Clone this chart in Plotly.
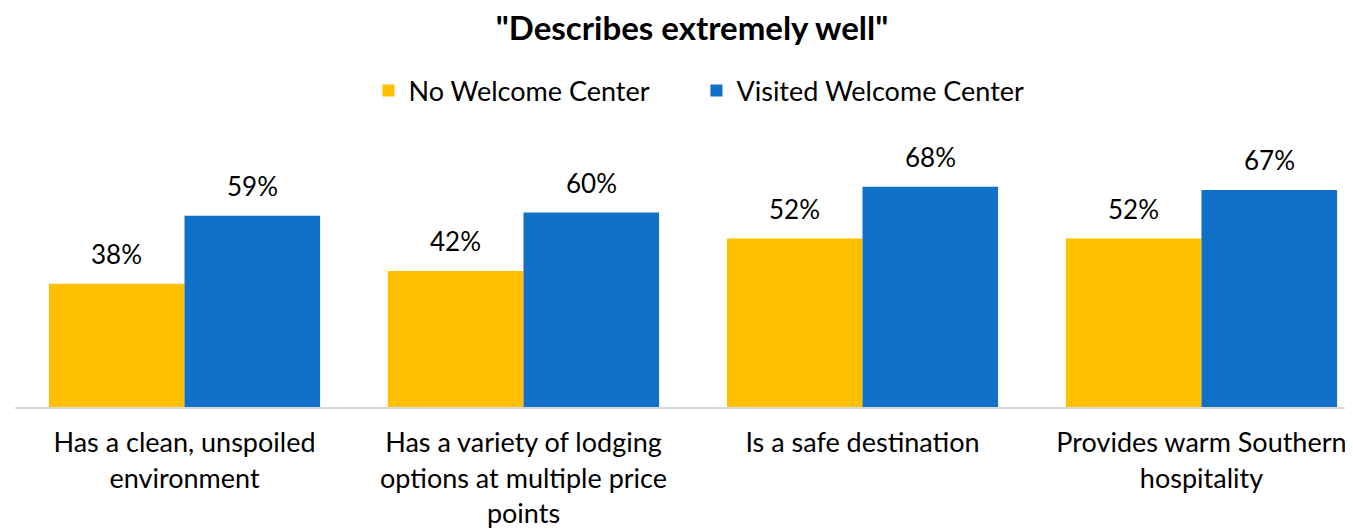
import plotly.graph_objects as go

categories = [
    "Has a clean, unspoiled<br>environment",
    "Has a variety of lodging<br>options at multiple price<br>points",
    "Is a safe destination",
    "Provides warm Southern<br>hospitality",
]
no_center = [38, 42, 52, 52]
visited_center = [59, 60, 68, 67]

FONT = "Lato"
COLORS = {"No Welcome Center": "#FFC000", "Visited Welcome Center": "#1170C8"}

fig = go.Figure()

series = [("No Welcome Center", no_center, -68), ("Visited Welcome Center", visited_center, 68)]
for name, values, shift in series:
    fig.add_trace(
        go.Bar(
            name=name,
            x=categories,
            y=values,
            marker=dict(color=COLORS[name], line=dict(width=0)),
        )
    )
    # value labels sit a bit higher above the bars than plotly's own "outside" text
    for cat, v in zip(categories, values):
        fig.add_annotation(
            x=cat,
            y=v,
            text=f"{v}%",
            showarrow=False,
            xshift=shift,
            yshift=12,
            yanchor="bottom",
            font=dict(size=26, family=FONT, color="#000000"),
        )

# the page body has an 8px margin, so the figure is a bit smaller than the window
fig.update_layout(
    width=1345,
    height=521,
    barmode="group",
    bargap=0.2,
    bargroupgap=0,
    plot_bgcolor="white",
    paper_bgcolor="white",
    font=dict(family=FONT, size=26, color="#000000"),
    title=dict(
        text='<b>"Describes extremely well"</b>',
        x=0.5086,
        xanchor="center",
        y=0.9616,
        yanchor="middle",
        font=dict(size=33, family=FONT, color="#000000"),
    ),
    legend=dict(
        orientation="h",
        x=0.5093,
        xanchor="center",
        y=1.1835,
        yanchor="middle",
        font=dict(size=27, family=FONT),
        traceorder="normal",
        entrywidth=283,
    ),
    margin=dict(l=7, r=0, t=132, b=122, autoexpand=False),
    xaxis=dict(
        showline=True,
        linecolor="#D9D9D9",
        linewidth=2,
        showgrid=False,
        ticks="",
        range=[-0.5, 3.447],
        tickfont=dict(size=27, family=FONT),
        ticklabelstandoff=11,
        automargin=False,
    ),
    yaxis=dict(
        range=[0, 82.4],
        showgrid=False,
        showticklabels=False,
        zeroline=False,
        showline=False,
        automargin=False,
    ),
    showlegend=True,
)

fig.write_html("out.html")
